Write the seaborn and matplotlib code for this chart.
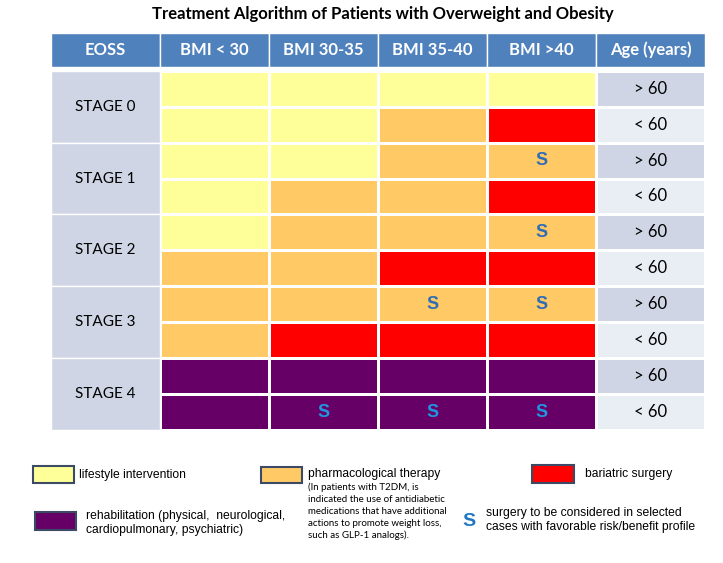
import numpy as np
import matplotlib
matplotlib.use('Agg')
import matplotlib.pyplot as plt
from matplotlib.colors import ListedColormap
from matplotlib.patches import Rectangle
import seaborn as sns

# table content
eoss_stages = ['STAGE 0', 'STAGE 1', 'STAGE 2', 'STAGE 3', 'STAGE 4']
bmi_classes = ['BMI < 30', 'BMI 30-35', 'BMI 35-40', 'BMI >40']
age_groups = ['> 60', '< 60']
header = ['EOSS'] + bmi_classes + ['Age (years)']

# L = lifestyle, P = pharmacological, B = bariatric, R = rehabilitation
treatment = [
    ['L', 'L', 'L', 'L'],  # stage 0 > 60
    ['L', 'L', 'P', 'B'],  # stage 0 < 60
    ['L', 'L', 'P', 'P'],  # stage 1 > 60
    ['L', 'P', 'P', 'B'],  # stage 1 < 60
    ['L', 'P', 'P', 'P'],  # stage 2 > 60
    ['P', 'P', 'B', 'B'],  # stage 2 < 60
    ['P', 'P', 'P', 'P'],  # stage 3 > 60
    ['P', 'B', 'B', 'B'],  # stage 3 < 60
    ['R', 'R', 'R', 'R'],  # stage 4 > 60
    ['R', 'R', 'R', 'R'],  # stage 4 < 60
]
# S = surgery to be considered
surgery = [
    [0, 0, 0, 0],
    [0, 0, 0, 0],
    [0, 0, 0, 1],
    [0, 0, 0, 0],
    [0, 0, 0, 1],
    [0, 0, 0, 0],
    [0, 0, 1, 1],
    [0, 0, 0, 0],
    [0, 0, 0, 0],
    [0, 1, 1, 1],
]

code = {'L': 0, 'P': 1, 'B': 2, 'R': 3}
colors = ['#ffff99', '#ffc966', '#ff0000', '#660066', '#cfd5e4', '#e9edf4', '#cfd5e4']
head_blue = '#4f81bd'

n_rows = len(treatment)
grid = np.zeros((n_rows, 6))
for i, row in enumerate(treatment):
    grid[i, 0] = 6
    grid[i, 1:5] = [code[c] for c in row]
    grid[i, 5] = 4 if i % 2 == 0 else 5

fig = plt.figure(figsize=(7.23, 5.63), dpi=100)
W, H = 723, 563
ax = fig.add_axes([51 / W, 1 - 430 / H, (705 - 51) / W, (430 - 33) / H])

sns.heatmap(grid, cmap=ListedColormap(colors), vmin=-0.5, vmax=6.5, cbar=False,
            linewidths=1, linecolor='white', xticklabels=False, yticklabels=False, ax=ax)
ax.set_ylim(n_rows, -1.05)
ax.set_xlim(0, 6)
ax.set_xticks([])
ax.set_yticks([])

# header row
for j, lab in enumerate(header):
    ax.add_patch(Rectangle((j, -1.05), 1, 0.95, facecolor=head_blue, edgecolor='white', lw=1))
    ax.text(j + 0.5, -0.575, lab, ha='center', va='center', color='white',
            fontsize=12, fontweight='bold', family='Lato')

# merged stage cells
for s, st in enumerate(eoss_stages):
    ax.add_patch(Rectangle((0, 2 * s), 1, 2, facecolor=colors[6], edgecolor='white', lw=1))
    ax.text(0.5, 2 * s + 1, st, ha='center', va='center', fontsize=11, family='Lato')

# age labels and surgery marks
for i in range(n_rows):
    ax.text(5.5, i + 0.5, age_groups[i % 2], ha='center', va='center', fontsize=12, family='Lato')
    for j in range(4):
        if surgery[i][j]:
            c = '#2196e0' if treatment[i][j] == 'R' else '#2f6db5'
            ax.text(j + 1.5, i + 0.5, 'S', ha='center', va='center', fontsize=13,
                    fontweight='bold', color=c, family='Liberation Sans')

fig.text(383 / W, 1 - 14 / H, 'Treatment Algorithm of Patients with Overweight and Obesity',
         ha='center', va='center', fontsize=12, fontweight='bold', family='Lato')

# legend
def legend_box(x0, y0, x1, y1, col):
    fig.patches.append(Rectangle((x0 / W, 1 - y1 / H), (x1 - x0) / W, (y1 - y0) / H,
                                 facecolor=col, edgecolor='#3d4a66', lw=1.5,
                                 transform=fig.transFigure, figure=fig))

legend_box(33, 466, 74, 483, colors[0])
legend_box(261, 467, 302, 483, colors[1])
legend_box(532, 465, 574, 483, colors[2])
legend_box(35, 512, 76, 530, colors[3])

lf = dict(fontsize=8.75, family='Liberation Sans', va='center', ha='left')
fig.text(79 / W, 1 - 475 / H, 'lifestyle intervention', **lf)
fig.text(308 / W, 1 - 474 / H, 'pharmacological therapy', **lf)
fig.text(585 / W, 1 - 474 / H, 'bariatric surgery', **lf)
fig.text(86 / W, 1 - 516 / H, 'rehabilitation (physical,  neurological,', **lf)
fig.text(86 / W, 1 - 530 / H, 'cardiopulmonary, psychiatric)', **lf)
fig.text(486 / W, 1 - 513 / H, 'surgery to be considered in selected', **lf)
fig.text(486 / W, 1 - 527 / H, 'cases with favorable risk/benefit profile', **lf)
fig.text(469 / W, 1 - 522 / H, 'S', fontsize=14, fontweight='bold', color='#1f77c4',
         family='Liberation Sans', ha='center', va='center')

pharma_note = ['(In patients with T2DM, is', 'indicated the use of antidiabetic',
               'medications that have additional', 'actions to promote weight loss,',
               'such as GLP-1 analogs).']
for k, line in enumerate(pharma_note):
    fig.text(308 / W, 1 - (487 + 12 * k) / H, line, fontsize=7, family='Lato',
             va='center', ha='left')

fig.savefig('out.png', dpi=100)
